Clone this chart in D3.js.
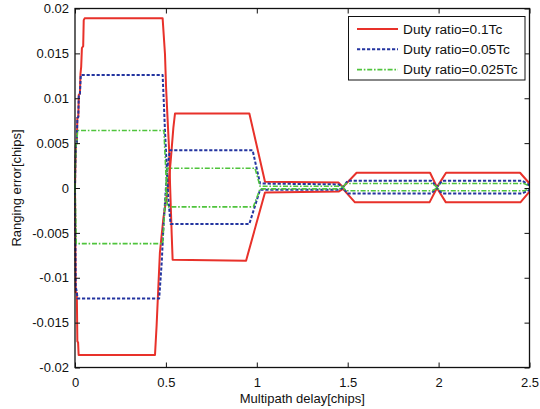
<!DOCTYPE html>
<html><head><meta charset="utf-8">
<script src="https://cdn.jsdelivr.net/npm/d3@7"></script>
<style>body{margin:0;background:#fff}text{font-family:"Liberation Sans",Arial,sans-serif;fill:#111}</style>
</head><body>
<svg id="c" width="540" height="409"></svg>
<script>
const xTicks = [0, 0.5, 1, 1.5, 2, 2.5];
const xTickLabels = ["0", "0.5", "1", "1.5", "2", "2.5"];
const yTicks = [-0.02, -0.015, -0.01, -0.005, 0, 0.005, 0.01, 0.015, 0.02];
const yTickLabels = ["-0.02", "-0.015", "-0.01", "-0.005", "0", "0.005", "0.01", "0.015", "0.02"];
const seriesNames = ["Duty ratio=0.1Tc", "Duty ratio=0.05Tc", "Duty ratio=0.025Tc"];

// [delay (chips), ranging error (chips)]
const red1 = [[0,0],[0.002,0.0025],[0.005,0.0048],[0.010,0.0050],[0.013,0.0078],[0.018,0.0079],[0.021,0.0104],[0.027,0.0105],[0.030,0.0127],[0.034,0.0135],[0.038,0.0156],[0.045,0.0158],[0.048,0.0187],[0.053,0.0189],
  [0.482,0.0189],[0.495,0.0149],[0.501,0.0112],[0.508,0.0082],[0.519,0.0037],[0.523,0.0003],[0.532,-0.0052],[0.537,-0.0080],
  [0.941,-0.0081],[1.045,-0.0005],[1.45,-0.0004],[1.474,-0.0001],[1.54,-0.0016],[1.95,-0.0016],[1.991,0],[2.04,-0.0016],[2.45,-0.0016],[2.5,-0.0004]];
const red2 = [[0,0],[0.004,-0.0116],[0.010,-0.0117],[0.013,-0.0171],[0.017,-0.0172],[0.020,-0.0186],
  [0.440,-0.0186],[0.449,-0.0153],[0.458,-0.0112],[0.467,-0.0072],[0.486,-0.0034],[0.513,0.0003],[0.526,0.0029],[0.541,0.0067],[0.550,0.0083],
  [0.959,0.0083],[1.045,0.0007],[1.45,0.0006],[1.474,0.0001],[1.549,0.0017],[1.953,0.0017],[1.991,0.0001],[2.041,0.0017],[2.448,0.0017],[2.5,0.0005]];
const blue1 = [[0,0],[0.002,0.0025],[0.005,0.0048],[0.010,0.0050],[0.013,0.0078],[0.018,0.0079],[0.021,0.0104],[0.027,0.0105],[0.032,0.0126],
  [0.482,0.0126],[0.489,0.0093],[0.495,0.0063],[0.504,0.0026],[0.513,-0.0011],[0.523,-0.0034],[0.526,-0.0040],
  [0.959,-0.0040],[1.018,-0.0002],[1.45,-0.0002],[1.474,0],[1.50,-0.0006],[1.96,-0.0006],[1.991,0],[2.02,-0.0006],[2.46,-0.0006],[2.5,-0.0002]];
const blue2 = [[0,0],[0.004,-0.0110],[0.010,-0.0116],[0.014,-0.0123],
  [0.463,-0.0123],[0.477,-0.0083],[0.486,-0.0045],[0.501,0.0003],[0.510,0.0026],[0.522,0.0042],
  [0.977,0.0042],[1.018,0.0005],[1.45,0.0004],[1.474,0.0001],[1.50,0.0008],[1.96,0.0008],[1.991,0.0001],[2.02,0.0008],[2.46,0.0008],[2.5,0.0003]];
const green1 = [[0,0],[0.002,0.0025],[0.005,0.0048],[0.010,0.0050],[0.014,0.0064],
  [0.489,0.0064],[0.497,0.0030],[0.508,-0.0021],
  [0.981,-0.0021],[1.018,-0.0001],[1.46,-0.0001],[1.474,0.0001],[1.49,-0.0003],[1.965,-0.0003],[1.991,0],[2.01,-0.0003],[2.47,-0.0003],[2.5,-0.0001]];
const green2 = [[0,0],[0.007,-0.0062],
  [0.482,-0.0062],[0.495,-0.0020],[0.508,0.0022],
  [0.990,0.0022],[1.018,0.0002],[1.46,0.0002],[1.474,0.0001],[1.49,0.0005],[1.965,0.0005],[1.991,0.0001],[2.01,0.0005],[2.47,0.0005],[2.5,0.0002]];

const styles = [
  {color:"#e8312a", width:2, dash:null},
  {color:"#2435a0", width:2, dash:"3.2,1.8"},
  {color:"#4fc43c", width:1.6, dash:"5,1.8,1.6,1.8"}
];
const groups = [[red1, red2], [blue1, blue2], [green1, green2]];

const svg = d3.select("#c");
const L = 75, R = 529.5, T = 8.5, B = 367.5;
const x = d3.scaleLinear().domain([0, 2.5]).range([L, R]);
const y = d3.scaleLinear().domain([-0.02, 0.02]).range([B, T]);

svg.append("rect").attr("x", L).attr("y", T).attr("width", R - L).attr("height", B - T).attr("fill", "#fff");

const line = d3.line().x(d => x(d[0])).y(d => y(d[1]));
groups.forEach((g, i) => {
  g.forEach(s => {
    svg.append("path").datum(s).attr("d", line).attr("fill", "none")
      .attr("stroke", styles[i].color).attr("stroke-width", styles[i].width)
      .attr("stroke-dasharray", styles[i].dash).attr("stroke-linejoin", "round");
  });
});

// axes (ticks inward on all sides)
const fmtX = (d, i) => xTickLabels[i];
const fmtY = (d, i) => yTickLabels[i];
const axB = svg.append("g").attr("transform", `translate(0,${B})`)
  .call(d3.axisBottom(x).tickValues(xTicks).tickFormat(fmtX).tickSizeInner(-5).tickSizeOuter(0).tickPadding(10));
const axT = svg.append("g").attr("transform", `translate(0,${T})`)
  .call(d3.axisTop(x).tickValues(xTicks).tickFormat("").tickSizeInner(-5).tickSizeOuter(0));
const axL = svg.append("g").attr("transform", `translate(${L},0)`)
  .call(d3.axisLeft(y).tickValues(yTicks).tickFormat(fmtY).tickSizeInner(-5).tickSizeOuter(0).tickPadding(6));
const axR = svg.append("g").attr("transform", `translate(${R},0)`)
  .call(d3.axisRight(y).tickValues(yTicks).tickFormat("").tickSizeInner(-5).tickSizeOuter(0));
[axB, axT, axL, axR].forEach(a => {
  a.select(".domain").remove();
  a.selectAll("line").attr("stroke", "#111").attr("stroke-width", 1);
  a.selectAll("text").style("font-size", "13px").attr("fill", "#111");
});
svg.append("rect").attr("x", L).attr("y", T).attr("width", R - L).attr("height", B - T)
  .attr("fill", "none").attr("stroke", "#111").attr("stroke-width", 1.3);

svg.append("text").attr("x", (L + R) / 2).attr("y", 403).attr("text-anchor", "middle")
  .style("font-size", "13px").text("Multipath delay[chips]");
svg.append("text").attr("transform", `translate(21,${(T + B) / 2}) rotate(-90)`).attr("text-anchor", "middle")
  .style("font-size", "13px").text("Ranging error[chips]");

// legend
const lg = svg.append("g");
lg.append("rect").attr("x", 348.5).attr("y", 16.5).attr("width", 176.5).attr("height", 63.5)
  .attr("fill", "#fff").attr("stroke", "#111").attr("stroke-width", 1);
seriesNames.forEach((n, i) => {
  const yy = 29 + i * 20.3;
  lg.append("line").attr("x1", 357).attr("x2", 398).attr("y1", yy).attr("y2", yy)
    .attr("stroke", styles[i].color).attr("stroke-width", styles[i].width).attr("stroke-dasharray", styles[i].dash);
  lg.append("text").attr("x", 403).attr("y", yy + 4.8).style("font-size", "13.7px").text(n);
});
</script>
</body></html>
